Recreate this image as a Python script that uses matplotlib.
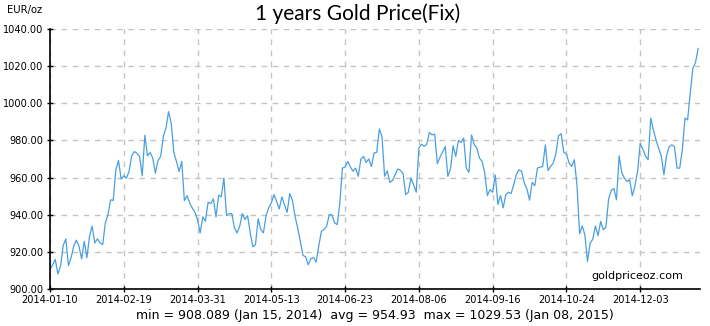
import matplotlib
matplotlib.use("Agg")
import matplotlib.pyplot as plt

# Daily gold fix prices (EUR/oz)
prices = [
    910.5, 913, 915.9, 908.089, 912.3, 923.4, 927, 912.6, 916.8, 923, 926.3, 923, 916.2, 925.7, 916.8,
    928.4, 933.8, 924.8, 927, 924.8, 923.9, 935.6, 940, 948, 947.7, 964.2, 969.2, 959.2, 961,
    959.7, 963.3, 971.7, 974, 973.1, 971.4, 961, 982.8, 971.7, 973.5, 970.5, 962.4, 969.2, 971.4,
    982.1, 986.6, 995.5, 989.3, 973.5, 968.7, 963.3, 968.7, 947.6, 950.3, 946.3, 943.6, 941.3, 937.3,
    930.2, 938.8, 936.5, 946.7, 946, 948.5, 938.8, 950.6, 949.6, 959.8, 939.5, 940.6, 940.6, 932.9,
    930.2, 933.8, 940.6, 937.4, 939.5, 930.2, 922.7, 924, 937.8, 932, 930.2, 939.5, 943.7, 946.3,
    950.8, 947.2, 943.1, 949.6, 945.5, 941.3, 951.4, 947.8, 939.2, 932.9, 925.8, 918.1, 917.4, 913.1,
    916.3, 917, 914.5, 923.1, 931.1, 932, 933.8, 940.1, 939.9, 935.6, 934.7, 946.3, 965.1, 965.7,
    968.7, 965.7, 963.4, 965.1, 960.7, 970, 971.4, 968.2, 970, 966, 973.2,
    973.6, 986.1, 982.1, 960.7, 963.7, 957.4, 958.5, 961.6, 964.6, 963.9, 962.1, 950.8, 952.1, 959.8,
    956.2, 952.1, 975.9,
    978, 976.8, 978, 984.3, 983, 983.4, 967.5, 971, 973.6, 976.8, 960.7, 964.6, 977.1, 971.4, 980,
    978.9, 981.3, 965.1, 962.8, 983, 977.7, 975.9, 970.5, 968.7, 962.5, 950.3, 953.5, 952.1,
    961.4, 945.5, 950.3, 943.7, 950.8, 952.1, 951.4, 956.2, 961.6, 964.2, 963.4, 957.1, 953.9, 947.8,
    957.4, 955.6, 965.1, 965.6, 966, 977.6, 963.8, 966, 967.8, 972.8, 982.5, 983.6, 973.5, 972.8,
    967.8, 966, 969.6, 956.1, 929.7, 934, 929.2, 914.8, 924.7, 926.8, 934, 928.6, 936.4, 931.9, 933.3,
    948.4, 953, 954.1, 948, 971.7, 962.7, 959.7, 957.9, 958.8, 950.2, 955.6, 963.3, 978.2,
    975.3, 971.7, 969.6, 992, 985.7, 980.3, 975.8, 971.7, 961.5, 971.7, 976.7, 977.6, 976.7, 965.1,
    965.1, 975, 992, 991.1, 1005.5, 1018.9, 1022, 1029.53,
]
tick_labels = ["2014-01-10", "2014-02-19", "2014-03-31", "2014-05-13", "2014-06-23",
               "2014-08-06", "2014-09-16", "2014-10-24", "2014-12-03"]
tick_step = 28
y_ticks = [900, 920, 940, 960, 980, 1000, 1020, 1040]

title = "1 years Gold Price(Fix)"
unit = "EUR/oz"
stats = "min = 908.089 (Jan 15, 2014)  avg = 954.93  max = 1029.53 (Jan 08, 2015)"
source = "goldpriceoz.com"

fig = plt.figure(figsize=(7.10, 3.26), dpi=100)
ax = fig.add_axes([50/710, 1-289/326, 650/710, 260/326])

x = list(range(len(prices)))
ax.plot(x, prices, color="#4a9fe0", lw=0.9)

ax.set_xlim(0, len(prices) - 0.3)
ax.set_ylim(900, 1040)
ax.set_yticks(y_ticks)
ax.set_yticklabels([f"{v:.2f}" for v in y_ticks], fontsize=7.8, fontstretch="condensed")
ax.set_xticks([i * tick_step for i in range(len(tick_labels))])
ax.set_xticklabels(tick_labels, fontsize=7.8, fontstretch="condensed")
ax.tick_params(axis="both", direction="inout", length=5, width=1, color="black",
               labelcolor="black", pad=2)

ax.grid(True, color="#c4c4c4", linestyle=(0, (4, 4)), linewidth=1)
ax.set_axisbelow(True)
for s in ["top", "right"]:
    ax.spines[s].set_visible(False)
for s in ["left", "bottom"]:
    ax.spines[s].set_linewidth(1.2)

fig.text(358/710, 1-14/326, title, ha="center", va="center", fontsize=15, family="Lato")
fig.text(7/710, 1-10/326, unit, ha="left", va="center", fontsize=8, fontstretch="condensed")
fig.text(375/710, 1-316/326, stats, ha="center", va="center", fontsize=9)
fig.text(683/710, 1-276/326, source, ha="right", va="center", fontsize=8)

fig.savefig("out.png", dpi=100)
